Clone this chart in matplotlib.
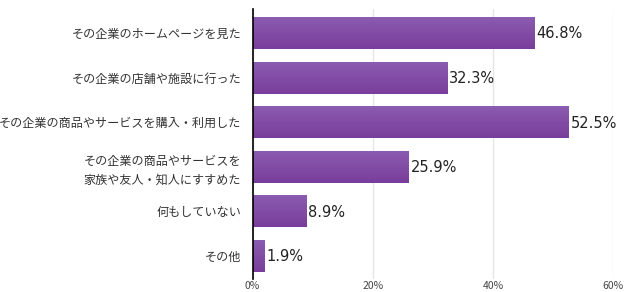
import numpy as np
import matplotlib
matplotlib.use("Agg")
import matplotlib.pyplot as plt
from matplotlib.colors import LinearSegmentedColormap

plt.rcParams["font.family"] = ["Noto Sans CJK JP", "DejaVu Sans"]

labels = [
    "その企業のホームページを見た",
    "その企業の店舗や施設に行った",
    "その企業の商品やサービスを購入・利用した",
    "その企業の商品やサービスを\n家族や友人・知人にすすめた",
    "何もしていない",
    "その他",
]
values = [46.8, 32.3, 52.5, 25.9, 8.9, 1.9]
xticks = [0, 20, 40, 60]

fig = plt.figure(figsize=(6.25, 2.92), dpi=100)
ax = fig.add_axes([0.404, 0.0445, 0.577, 0.9245])

pos = np.arange(len(values))
bars = ax.barh(pos, values, height=0.72, color="#8250a6", zorder=2)

# vertical gradient on each bar
cmap = LinearSegmentedColormap.from_list("pur", ["#8b5db1", "#793d9b"])
grad = np.linspace(0, 1, 64).reshape(-1, 1)
for b in bars:
    x0, y0 = b.get_x(), b.get_y()
    w, h = b.get_width(), b.get_height()
    im = ax.imshow(grad, cmap=cmap, aspect="auto", extent=[x0, x0 + w, y0 + h, y0],
                   zorder=3)
    im.set_clip_path(b)

for p, v in zip(pos, values):
    ax.text(v + 0.4, p + 0.02, f"{v}%", va="center", ha="left", fontsize=10.5,
            color="#222222", family=["DejaVu Sans"], zorder=4)

ax.set_xlim(0, 60)
ax.set_ylim(5.516, -0.538)
ax.set_xticks(xticks)
ax.set_xticklabels([f"{t}%" for t in xticks], fontsize=7.5, color="#444444")
ax.set_yticks(pos)
ax.set_yticklabels(labels, fontsize=8.7, color="#333333", linespacing=1.55)
ax.tick_params(axis="both", length=0)
ax.tick_params(axis="y", pad=8)
ax.tick_params(axis="x", pad=1.5)
ax.grid(axis="x", color="#e6e6e6", linewidth=1, zorder=0)
ax.set_axisbelow(True)
for s in ["top", "right", "bottom"]:
    ax.spines[s].set_visible(False)
ax.spines["left"].set_color("black")
ax.spines["left"].set_linewidth(1.2)
ax.spines["left"].set_zorder(5)

fig.savefig("out.png", dpi=100)
